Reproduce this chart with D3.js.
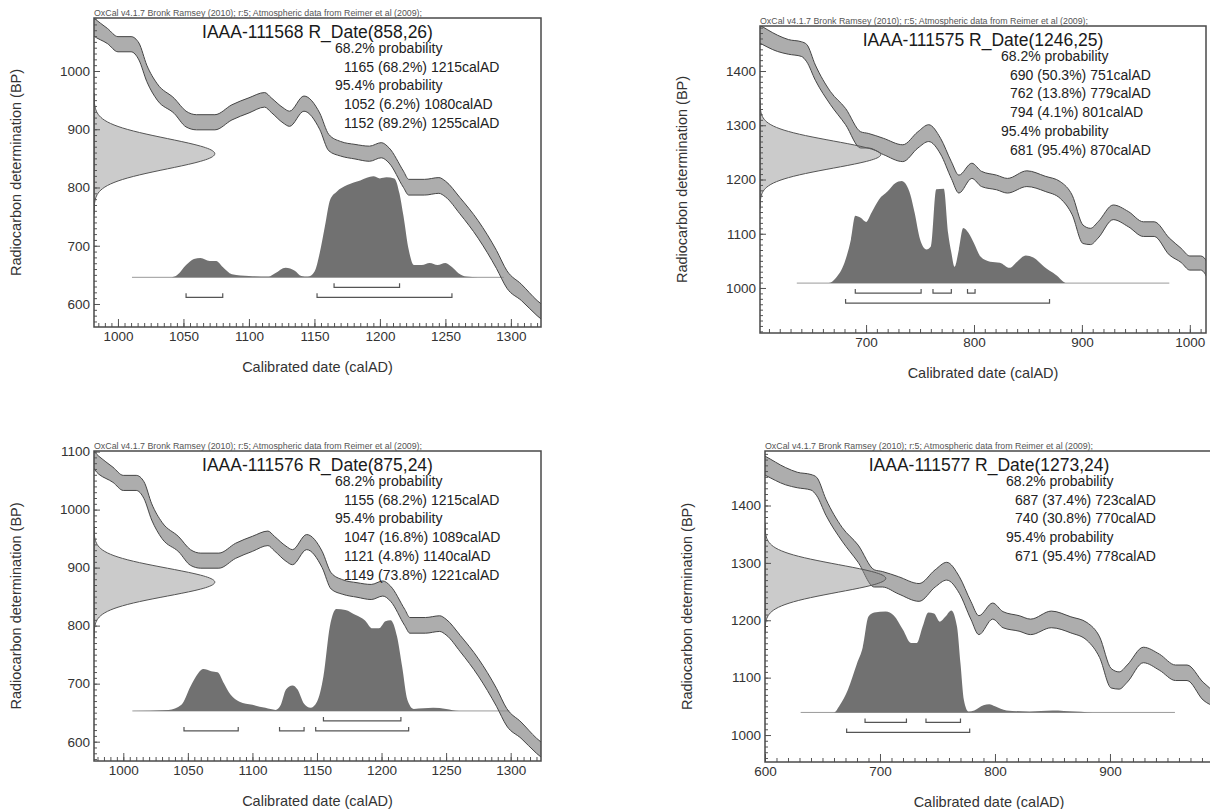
<!DOCTYPE html>
<html><head><meta charset="utf-8">
<script src="https://d3js.org/d3.v7.min.js"></script>
<style>
body{margin:0;background:#fff;}
svg{display:block;font-family:Arial,"Liberation Sans",Helvetica,sans-serif;}
</style></head><body>
<script>
// ---- data ----
var labCodes = ["IAAA-111568", "IAAA-111575", "IAAA-111576", "IAAA-111577"];
var c14Ages = [858, 1246, 875, 1273];
var c14Errors = [26, 25, 24, 24];
var header = "OxCal v4.1.7 Bronk Ramsey (2010); r:5; Atmospheric data from Reimer et al (2009);";

// calibrated ranges [from, to, percent]
var range68 = [
  [[1165, 1215, "68.2"]],
  [[690, 751, "50.3"], [762, 779, "13.8"], [794, 801, "4.1"]],
  [[1155, 1215, "68.2"]],
  [[687, 723, "37.4"], [740, 770, "30.8"]]
];
var range95 = [
  [[1052, 1080, "6.2"], [1152, 1255, "89.2"]],
  [[681, 870, "95.4"]],
  [[1047, 1089, "16.8"], [1121, 1140, "4.8"], [1149, 1221, "73.8"]],
  [[671, 778, "95.4"]]
];

// calibration curve band: [calAD, upper BP, lower BP]
var calCurve = [
  [595,1491,1458],[600,1486,1453],[618,1466,1436],[628,1458,1431],[640,1454,1427],[645,1449,1417],
  [653,1411,1383],[667,1362,1338],[681,1331,1301],[695,1288,1258],[702,1285,1258],[716,1276,1246],
  [734,1264,1233],[748,1288,1258],[758,1301,1270],[769,1276,1247],[779,1233,1202],[786,1208,1175],
  [798,1230,1202],[807,1215,1187],[821,1208,1181],[831,1202,1175],[849,1216,1187],[866,1206,1178],
  [880,1196,1165],[891,1171,1135],[901,1116,1082],[908,1110,1080],[915,1122,1092],[929,1153,1126],
  [943,1141,1113],[957,1122,1095],[967,1122,1095],[981,1092,1061],[992,1073,1047],[1000,1059,1033],
  [1010,1059,1033],[1016,1048,1019],[1022,1010,982],[1030,978,950],[1043,953,927],[1052,931,904],
  [1060,925,899],[1074,925,899],[1087,942,916],[1100,954,928],[1112,963,938],[1117,954,929],
  [1126,937,911],[1131,931,905],[1142,957,931],[1154,928,900],[1161,891,863],[1170,879,854],
  [1181,874,849],[1192,871,845],[1201,877,851],[1207,868,842],[1218,828,800],[1222,814,787],
  [1234,814,787],[1245,817,790],[1250,811,784],[1261,783,755],[1275,743,713],[1289,692,661],
  [1297,657,627],[1308,634,606],[1320,606,580],[1330,588,562]
];

// posterior (relative probability) per sample: [calAD, density]
var post568 = [
  [1010,0],[1040,0],[1045,0.02],[1052,0.12],[1058,0.18],[1063,0.19],[1070,0.16],[1075,0.16],[1080,0.1],
  [1087,0.03],[1100,0.013],[1115,0.007],[1120,0.04],[1128,0.095],[1135,0.065],[1140,0.013],[1145,0.007],
  [1150,0.055],[1154,0.235],[1158,0.5],[1162,0.76],[1167,0.84],[1175,0.905],[1185,0.95],[1195,0.99],
  [1200,0.97],[1205,0.98],[1211,0.97],[1215,0.82],[1218,0.6],[1222,0.27],[1226,0.12],[1232,0.12],
  [1238,0.14],[1244,0.12],[1250,0.14],[1255,0.1],[1260,0.04],[1266,0.007],[1275,0],[1295,0]
];
var post575 = [
  [636,0],[665,0],[672,0.05],[680,0.2],[686,0.43],[690,0.66],[695,0.64],[700,0.6],[705,0.69],[712,0.82],
  [720,0.9],[727,0.98],[733,1],[740,0.9],[745,0.69],[750,0.43],[756,0.33],[760,0.36],[765,0.92],[772,0.925],
  [776,0.49],[779,0.3],[782,0.16],[786,0.33],[790,0.54],[795,0.49],[800,0.39],[806,0.26],[815,0.21],
  [824,0.2],[833,0.15],[840,0.21],[848,0.27],[855,0.25],[865,0.16],[876,0.08],[886,0],[981,0]
];
var post576 = [
  [1007,0],[1035,0.01],[1045,0.06],[1052,0.24],[1058,0.37],[1062,0.41],[1068,0.39],[1073,0.38],[1078,0.27],
  [1083,0.16],[1090,0.09],[1100,0.06],[1110,0.03],[1118,0.01],[1122,0.06],[1126,0.21],[1131,0.25],
  [1135,0.21],[1140,0.07],[1145,0.03],[1150,0.09],[1155,0.34],[1160,0.83],[1165,1],[1172,0.99],[1180,0.94],
  [1187,0.89],[1193,0.81],[1198,0.81],[1203,0.88],[1207,0.89],[1212,0.73],[1216,0.43],[1220,0.11],
  [1225,0.02],[1240,0.03],[1250,0.02],[1260,0],[1299,0]
];
var post577 = [
  [631,0],[660,0],[665,0.07],[672,0.22],[680,0.48],[685,0.64],[690,0.94],[695,0.98],[705,0.99],[712,0.95],
  [720,0.81],[727,0.68],[732,0.68],[737,0.84],[742,0.98],[747,0.97],[752,0.89],[757,0.94],[762,1],[767,0.84],
  [770,0.48],[773,0.12],[777,0.01],[782,0.02],[790,0.07],[795,0.08],[800,0.06],[810,0.02],[830,0.01],
  [850,0.02],[870,0.01],[890,0],[956,0]
];
var posteriors = [post568, post575, post576, post577];

// BP level of each posterior baseline and its calAD extent
var baseBP = [645.8, 1009, 653, 1039.4];
var baseStart = [1010.7, 635.8, 1007, 631];
var baseEnd = [1294.6, 981, 1299, 956.5];

// ---- layout ----
var frames = [
  {left:94, top:18, right:541, bottom:327, xDom:[981.7,1323], yDom:[560.5,1091], xStep:50, xMinor:5},
  {left:760, top:26, right:1206, bottom:333, xDom:[601.7,1015], yDom:[917,1483], xStep:100, xMinor:10},
  {left:94, top:451, right:541, bottom:761, xDom:[977.3,1323.5], yDom:[566.7,1101], xStep:50, xMinor:5},
  {left:765, top:451, right:1213, bottom:762, xDom:[600,989.6], yDom:[953,1495], xStep:100, xMinor:10}
];

var svg = d3.select("body").append("svg").attr("width", 1210).attr("height", 809);
var defs = svg.append("defs");

function inRange(dom, step) {
  return d3.range(Math.ceil(dom[0] / step) * step, dom[1] + 0.001, step);
}

frames.forEach(function(f, i) {
  var x = d3.scaleLinear().domain(f.xDom).range([f.left, f.right]);
  var y = d3.scaleLinear().domain(f.yDom).range([f.bottom, f.top]);
  var g = svg.append("g");

  defs.append("clipPath").attr("id", "clip" + i).append("rect")
      .attr("x", f.left).attr("y", f.top)
      .attr("width", f.right - f.left).attr("height", f.bottom - f.top);
  var plot = g.append("g").attr("clip-path", "url(#clip" + i + ")");

  // posterior baseline
  var yb = y(baseBP[i]);
  plot.append("line")
      .attr("x1", x(baseStart[i])).attr("x2", x(baseEnd[i]))
      .attr("y1", yb).attr("y2", yb)
      .attr("stroke", "#9a9a9a").attr("stroke-width", 1);

  // calibration band
  plot.append("path").datum(calCurve)
      .attr("d", d3.area().x(function(d){ return x(d[0]); })
          .y0(function(d){ return y(d[2]); }).y1(function(d){ return y(d[1]); })
          .curve(d3.curveMonotoneX))
      .attr("fill", "#8a8a8a").attr("fill-opacity", 0.7)
      .attr("stroke", "#454545").attr("stroke-width", 1);

  // radiocarbon date (normal on the BP axis)
  var age = c14Ages[i], err = c14Errors[i];
  var w = d3.scaleLinear().domain([0, 1]).range([0, 121]);
  plot.append("path").datum(d3.range(-4, 4.001, 0.1))
      .attr("d", d3.area().y(function(z){ return y(age + z * err); })
          .x0(f.left).x1(function(z){ return f.left + w(Math.exp(-z * z / 2)); })
          .curve(d3.curveBasis))
      .attr("fill", "#8c8c8c").attr("fill-opacity", 0.45)
      .attr("stroke", "#555").attr("stroke-width", 1);

  // posterior
  var h = d3.scaleLinear().domain([0, 1]).range([0, 102]);
  plot.append("path").datum(posteriors[i])
      .attr("d", d3.area().x(function(d){ return x(d[0]); })
          .y0(yb).y1(function(d){ return yb - h(d[1]); })
          .curve(d3.curveMonotoneX))
      .attr("fill", "#717171");

  // range brackets
  function brackets(list, off) {
    g.selectAll(null).data(list).enter().append("path")
        .attr("d", function(r){
          return "M" + x(r[0]) + "," + (yb + off - 4) + "V" + (yb + off) +
                 "H" + x(r[1]) + "V" + (yb + off - 4);
        })
        .attr("fill", "none").attr("stroke", "#555").attr("stroke-width", 1.2);
  }
  brackets(range68[i], 10);
  brackets(range95[i], 20);

  // axes (ticks point inwards)
  function styleAxis(a) {
    a.select(".domain").remove();
    a.attr("font-size", 13.5).attr("font-family", null);
    a.selectAll("line").attr("stroke", "#555");
    a.selectAll("text").attr("fill", "#333");
  }
  g.append("g").attr("transform", "translate(" + f.left + ",0)")
      .call(d3.axisLeft(y).tickValues(inRange(f.yDom, 10)).tickSizeInner(-3).tickSizeOuter(0).tickFormat(""))
      .call(styleAxis);
  g.append("g").attr("transform", "translate(" + f.left + ",0)")
      .call(d3.axisLeft(y).tickValues(inRange(f.yDom, 100)).tickSizeInner(-6).tickSizeOuter(0)
          .tickPadding(4).tickFormat(d3.format("d")))
      .call(styleAxis);
  g.append("g").attr("transform", "translate(0," + f.bottom + ")")
      .call(d3.axisBottom(x).tickValues(inRange(f.xDom, f.xMinor)).tickSizeInner(-4).tickSizeOuter(0).tickFormat(""))
      .call(styleAxis);
  g.append("g").attr("transform", "translate(0," + f.bottom + ")")
      .call(d3.axisBottom(x).tickValues(inRange(f.xDom, f.xStep)).tickSizeInner(-8).tickSizeOuter(0)
          .tickPadding(4).tickFormat(d3.format("d")))
      .call(styleAxis);

  // frame
  g.append("rect")
      .attr("x", f.left).attr("y", f.top)
      .attr("width", f.right - f.left).attr("height", f.bottom - f.top)
      .attr("fill", "none").attr("stroke", "#4a4a4a").attr("stroke-width", 1.5);

  // texts
  g.append("text").attr("x", f.left).attr("y", f.top - 2)
      .attr("font-size", 8.5).attr("fill", "#555")
      .attr("textLength", 328).attr("lengthAdjust", "spacingAndGlyphs")
      .text(header);

  g.append("text").attr("x", (f.left + f.right) / 2).attr("y", f.top + 20)
      .attr("text-anchor", "middle").attr("font-size", 17.5).attr("fill", "#1a1a1a")
      .text(labCodes[i] + " R_Date(" + age + "," + err + ")");

  var lines = [["68.2% probability", 241]];
  range68[i].forEach(function(r){ lines.push([r[0] + " (" + r[2] + "%) " + r[1] + "calAD", 250]); });
  lines.push(["95.4% probability", 241]);
  range95[i].forEach(function(r){ lines.push([r[0] + " (" + r[2] + "%) " + r[1] + "calAD", 250]); });
  g.selectAll(null).data(lines).enter().append("text")
      .attr("x", function(d){ return f.left + d[1]; })
      .attr("y", function(d, j){ return f.top + 35 + j * 18.7; })
      .attr("font-size", 14).attr("fill", "#222")
      .text(function(d){ return d[0]; });

  g.append("text")
      .attr("transform", "translate(" + (f.left - 78) + "," + ((f.top + f.bottom) / 2) + ") rotate(-90)")
      .attr("text-anchor", "middle").attr("dominant-baseline", "central")
      .attr("font-size", 14.5).attr("fill", "#333")
      .text("Radiocarbon determination (BP)");
  g.append("text").attr("x", (f.left + f.right) / 2).attr("y", f.bottom + 45)
      .attr("text-anchor", "middle").attr("font-size", 14.5).attr("fill", "#333")
      .text("Calibrated date (calAD)");
});
</script>
</body></html>
